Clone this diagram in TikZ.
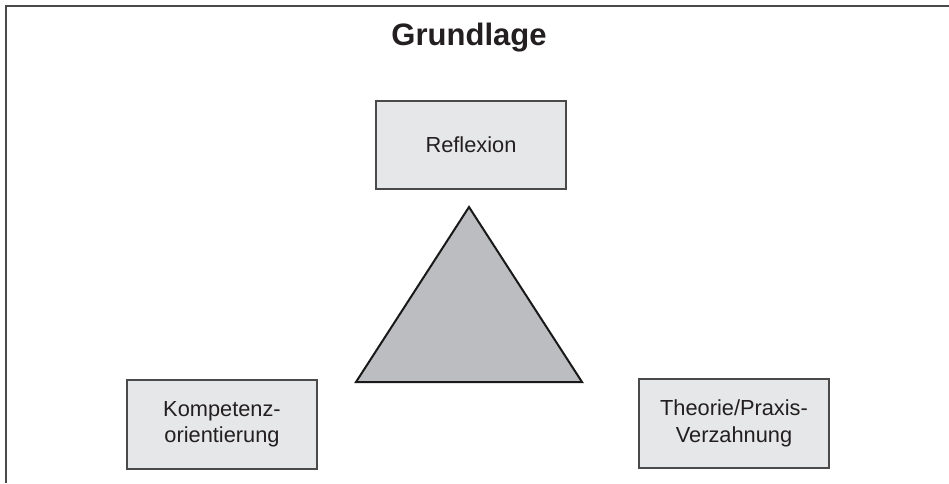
\documentclass[tikz,border=0pt]{standalone}
\usepackage{fontspec}
\setmainfont{Liberation Sans}
\definecolor{boxfill}{HTML}{E6E7E8}
\definecolor{boxline}{HTML}{4A4A4A}
\definecolor{trifill}{HTML}{BCBDC0}
\definecolor{txt}{HTML}{231F20}
\tikzset{
  topic/.style={draw=boxline, line width=1.5pt, fill=boxfill, minimum width=190pt, minimum height=88pt,
    align=center, text=txt, inner sep=0pt, font=\fontsize{21.8pt}{26.5pt}\selectfont},
  framebar/.style={draw=boxline, line width=2pt},
}
\begin{document}
\begin{tikzpicture}[x=1pt,y=-1pt]
\useasboundingbox (0,0) rectangle (949,483);
\fill[white] (0,0) rectangle (949,483);
\coordinate (fbl) at (6,483);
\coordinate (ftl) at (6,6);
\coordinate (ftr) at (949,6);
\draw[framebar] (fbl) -- (ftl) -- (ftr);
\node[text=txt, font=\fontsize{31pt}{36pt}\selectfont\bfseries] (title) at (469,38) {Grundlage};
\node[topic] (refl) at (471,145) {Reflexion};
\node[topic, minimum height=89pt] (komp) at (222,424.5) {Kompetenz-\\orientierung};
\node[topic, minimum height=89pt] (theo) at (734,423.5) {Theorie/Praxis-\\Verzahnung};
\coordinate (tA) at (469,207);
\coordinate (tL) at (356,382);
\coordinate (tR) at (582,382);
\draw[fill=trifill, draw=black!90, line width=2pt, line join=miter] (tA) -- (tL) -- (tR) -- cycle;
\end{tikzpicture}
\end{document}
